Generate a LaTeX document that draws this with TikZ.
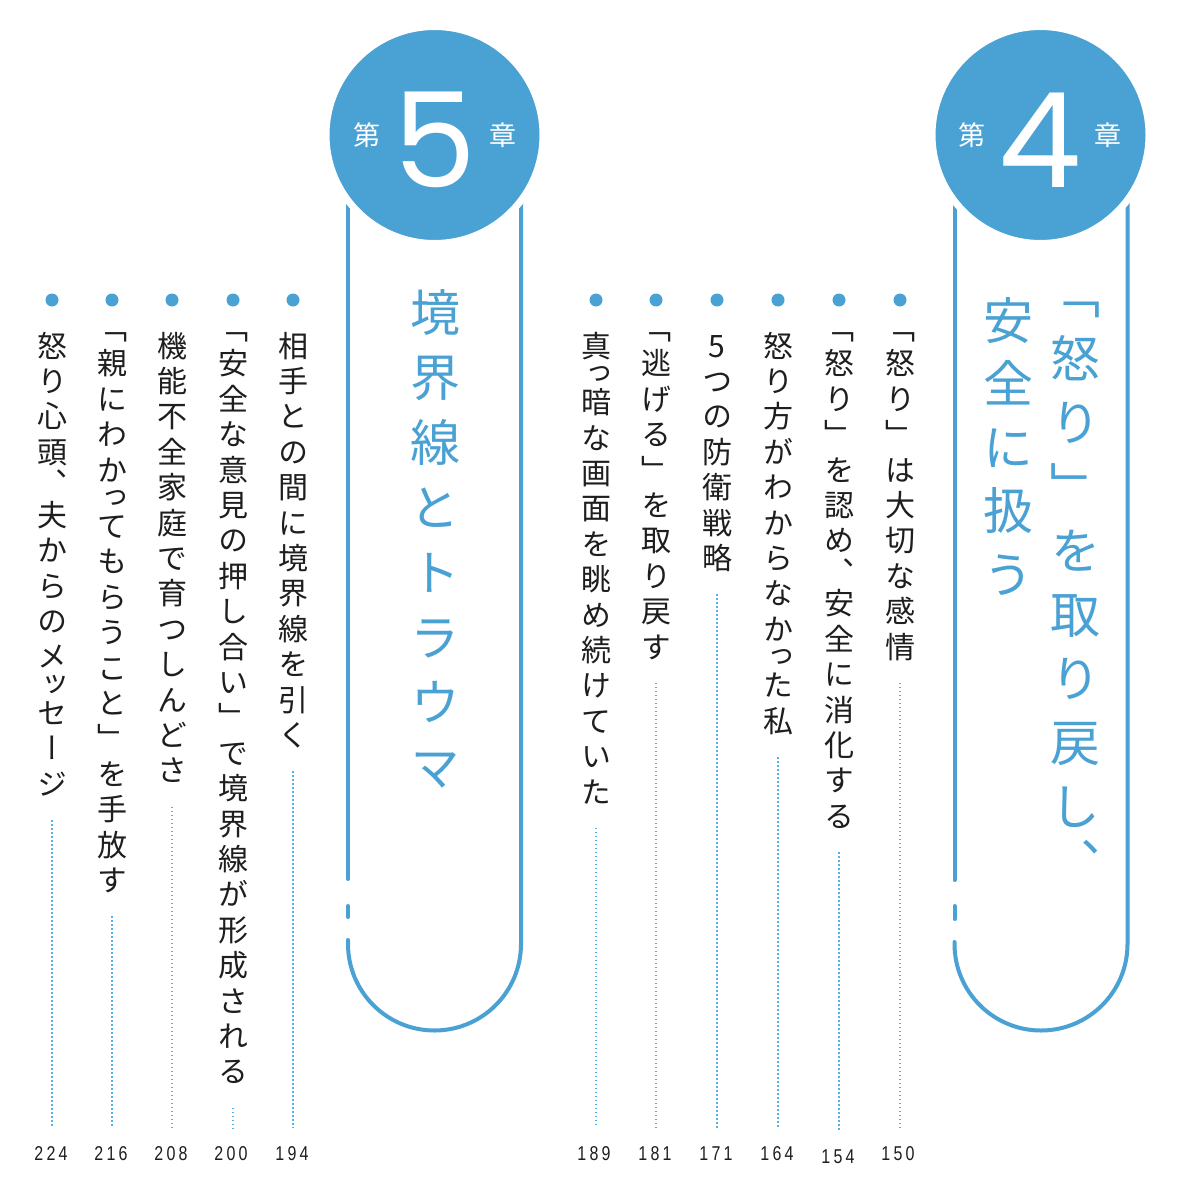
\documentclass[tikz,border=0pt]{standalone}
\usepackage{fontspec}
\newfontfamily\jp{Noto Sans CJK JP}[Script=CJK, RawFeature=+vert]
\newfontfamily\jph{Noto Sans CJK JP}
\newfontfamily\numfont{Poppins}
\newfontfamily\pgfont{Liberation Sans}[LetterSpace=20]
\definecolor{tocblue}{RGB}{74,161,212}
\definecolor{dotblue}{RGB}{80,178,232}
\definecolor{ink}{RGB}{30,30,30}
\makeatletter
\newdimen\vtp \newdimen\vt@h \newdimen\vt@d
\def\vt#1#2{\vtp=#1pt\vbox{\offinterlineskip\vt@b#2\vt@end}}
\def\vt@b#1{\ifx#1\vt@end\expandafter\@gobble\else\expandafter\@firstofone\fi{\vt@cell{#1}\vt@b}}
\def\vt@cell#1{%
  \vt@h=\vtp
  \ifx#1っ\vt@h=0.55\vtp\fi
  \ifx#1ッ\vt@h=0.55\vtp\fi
  \ifx#1︑\vt@h=0.78\vtp\fi
  \vt@d=\dimexpr 0.5\vt@h-0.38em\relax
  \hbox to 1em{\hss\rule[-\vt@d]{0pt}{\vt@h}#1\hss}}
\makeatother
\tikzset{
  item/.style={font=\jp\fontsize{30}{36}\selectfont, anchor=north, inner sep=0pt, outer sep=0pt, text=ink},
  ttl/.style={font=\jp\fontsize{50}{60}\selectfont, anchor=north, inner sep=0pt, outer sep=0pt, text=tocblue},
  pg/.style={font=\pgfont\fontsize{20}{20}\selectfont, xscale=0.8, inner sep=0pt, text height=14pt, text depth=0pt, text=ink},
  bul/.style={circle, fill=tocblue, minimum size=13pt, inner sep=0pt},
  leader/.style={draw=dotblue, line width=1.7pt, dash pattern=on 1.5pt off 2.5pt, shorten <=18.5pt, shorten >=18pt},
  chapcircle/.style={circle, fill=tocblue, draw=white, line width=7pt, minimum size=217pt, inner sep=0pt, outer sep=0pt},
  capsule/.style={draw=tocblue, line width=4pt, line cap=round},
  chap/.style={font=\jph\fontsize{27}{27}\selectfont, text=white, inner sep=0pt},
  bignum/.style={font=\numfont\fontsize{132}{132}\selectfont, text=white, inner sep=0pt},
}
\begin{document}
\begin{tikzpicture}[x=1pt,y=-1pt]
\useasboundingbox[fill=white] (0,0) rectangle (1178,1198);

% ---- capsules ----
\draw[capsule] (954.5,135) -- (954.5,880);
\draw[capsule] (954.5,906) -- (954.5,919);
\draw[capsule] (954.5,942) -- (954.5,944) arc[start angle=180, end angle=360, radius=86.5pt] -- (1127.5,135);
\draw[capsule] (348,135) -- (348,879);
\draw[capsule] (348,906) -- (348,917);
\draw[capsule] (348,940) -- (348,944) arc[start angle=180, end angle=360, radius=86.5pt] -- (521,135);

% ---- chapter circles ----
\node[chapcircle] (c4) at (1040.5,135) {};
\node[chapcircle] (c5) at (434.5,135) {};
\node[chap] (dai4) at (972,135) {第};
\node[chap] (sho4) at (1108,135) {章};
\node[bignum] (n4) at (1040,140) {4};
\node[chap] (dai5) at (367,135) {第};
\node[chap] (sho5) at (503,135) {章};
\node[bignum] (n5) at (435,140) {5};

% ---- titles ----
\node[ttl] (t4a) at (1075,262) {\vt{64}{﹁怒り﹂を取り戻し︑}};
\node[ttl] (t4b) at (1008,288.25) {\vt{63.5}{安全に扱う}};
\node[ttl] (t5) at (435,279.5) {\vt{65}{境界線とトラウマ}};

% ---- bullets ----
\foreach \n/\x in {b150/900,b154/839,b164/778,b171/717,b181/656,b189/596,b194/293,b200/233,b208/172,b216/112,b224/52}
  \node[bul] (\n) at (\x,300) {};

% ---- items ----
\node[item] (i150) at (900,310.3) {\vt{35.4}{﹁怒り﹂は大切な感情}};
\node[item] (i154) at (839,310.3) {\vt{35.4}{﹁怒り﹂を認め︑安全に消化する}};
\node[item] (i164) at (778,328) {\vt{35.4}{怒り方がわからなかった私}};
\node[item] (i171) at (717,328) {\vt{35.4}{5つの防衛戦略}};
\node[item] (i181) at (656,310.3) {\vt{35.4}{﹁逃げる﹂を取り戻す}};
\node[item] (i189) at (596,328) {\vt{35.4}{真っ暗な画面を眺め続けていた}};
\node[item] (i194) at (293,328) {\vt{35.4}{相手との間に境界線を引く}};
\node[item] (i200) at (233,310.3) {\vt{35.4}{﹁安全な意見の押し合い﹂で境界線が形成される}};
\node[item] (i208) at (172,328) {\vt{35.4}{機能不全家庭で育つしんどさ}};
\node[item] (i216) at (112,310.3) {\vt{35.4}{﹁親にわかってもらうこと﹂を手放す}};
\node[item] (i224) at (52,328) {\vt{35.4}{怒り心頭︑夫からのメッセージ}};

% ---- page numbers ----
\node[pg] (p150) at (898,1153) {150};
\node[pg] (p154) at (838,1156) {154};
\node[pg] (p164) at (777,1153) {164};
\node[pg] (p171) at (716,1153) {171};
\node[pg] (p181) at (655,1153) {181};
\node[pg] (p189) at (594,1153) {189};
\node[pg] (p194) at (292,1153) {194};
\node[pg] (p200) at (231,1153) {200};
\node[pg] (p208) at (171,1153) {208};
\node[pg] (p216) at (111,1153) {216};
\node[pg] (p224) at (51,1153) {224};

% ---- leaders ----
\foreach \k in {150,154,164,171,181,189,194,200,208,216,224}
  \draw[leader] (i\k.south) -- (i\k.south |- p\k.north);
\end{tikzpicture}
\end{document}
